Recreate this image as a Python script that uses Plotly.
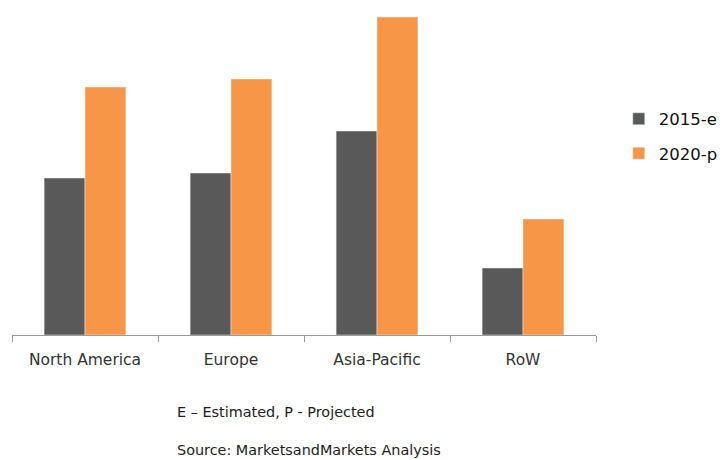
import plotly.graph_objects as go

categories = ["North America", "Europe", "Asia-Pacific", "RoW"]
series_2015 = [157, 162, 204, 67]
series_2020 = [248, 256, 318, 116]
series_names = ["2015-e", "2020-p"]
note_text = "E – Estimated, P - Projected"
source_text = "Source: MarketsandMarkets Analysis"

fig = go.Figure()
fig.add_trace(go.Bar(x=categories, y=series_2015, name=series_names[0],
                     marker_color="#595959", legendgroup="a"))
fig.add_trace(go.Bar(x=categories, y=series_2020, name=series_names[1],
                     marker_color="#f79646", legendgroup="b"))

fig.update_layout(
    width=724, height=460,
    margin=dict(l=12, r=128, t=0, b=125),
    paper_bgcolor="white", plot_bgcolor="white",
    barmode="group", bargap=0.44, bargroupgap=0,
    font=dict(family="DejaVu Sans", size=13, color="#222"),
    showlegend=True,
    legend=dict(x=1.039, y=0.594, xanchor="left", yanchor="middle",
                font=dict(family="DejaVu Sans", size=16.5, color="#111"),
                tracegroupgap=10, itemwidth=30, bgcolor="rgba(0,0,0,0)"),
    xaxis=dict(showline=True, linecolor="#9a9a9a", linewidth=1,
               ticks="outside", tickson="boundaries", ticklen=6,
               tickcolor="#9a9a9a", showgrid=False, ticklabelstandoff=10,
               tickfont=dict(family="DejaVu Sans", size=15.5, color="#333")),
    yaxis=dict(range=[0, 335], visible=False, showgrid=False, zeroline=False),
    annotations=[
        dict(text=note_text, xref="paper", yref="paper", x=(175-12)/584,
             y=-(412-335)/335, xanchor="left", yanchor="middle",
             showarrow=False, font=dict(family="DejaVu Sans", size=14.4, color="#222")),
        dict(text=source_text, xref="paper", yref="paper", x=(175-12)/584,
             y=-(450-335)/335, xanchor="left", yanchor="middle",
             showarrow=False, font=dict(family="DejaVu Sans", size=14.4, color="#222")),
    ],
)

fig.write_html("out.html")
